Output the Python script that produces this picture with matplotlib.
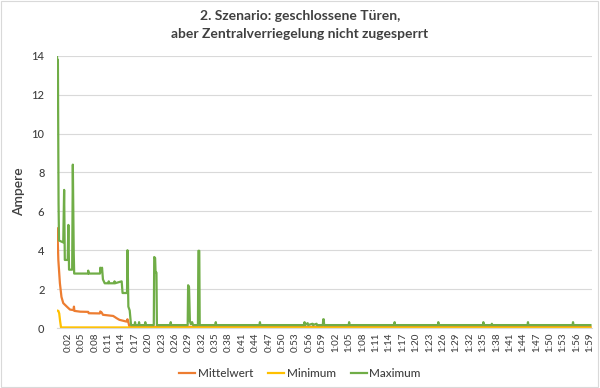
import matplotlib.pyplot as plt
from matplotlib.patches import Rectangle

plt.rcParams['font.family'] = ['Lato', 'DejaVu Sans']

# time in seconds, current in Ampere
mean_t = [0.0, 0.1, 0.3, 0.65, 1.0, 1.4, 2.2, 2.9, 3.7, 3.8, 3.9, 5.2, 7.0, 7.1,
          9.6, 9.7, 10.0, 10.3, 12.6, 13.4, 14.0, 15.6, 15.8, 16.0, 16.2, 16.5, 119.6]
mean_v = [5.12, 5.0, 3.5, 2.3, 1.6, 1.28, 1.1, 0.95, 0.92, 1.1, 0.88, 0.84, 0.83, 0.76,
          0.75, 0.85, 0.8, 0.68, 0.62, 0.5, 0.42, 0.33, 0.45, 0.3, 0.1, 0.06, 0.06]

min_t = [0.0, 0.3, 0.5, 0.7, 0.9, 119.6]
min_v = [0.9, 0.88, 0.75, 0.35, 0.03, 0.02]

max_t = [0.0, 0.1, 0.2, 0.35, 0.45, 1.4, 1.6, 1.75, 2.4, 2.55, 2.7, 3.4, 3.55, 3.75, 3.85,
         6.95, 7.0, 7.1, 9.65, 9.7, 9.9, 10.1, 10.3, 10.7, 11.5, 11.6, 11.7, 12.8, 12.9, 13.0,
         14.5, 14.7, 15.7, 15.8, 16.0, 16.3, 16.6,
         17.4, 17.5, 17.6, 18.3, 18.4, 18.5, 19.7, 19.8, 19.9,
         21.7, 21.8, 22.0, 22.1, 22.3, 22.4,
         25.4, 25.5, 25.6, 29.3, 29.4, 29.6, 29.8, 30.0, 30.3, 30.5,
         31.6, 31.7, 31.9, 32.0, 35.5, 35.6, 35.7, 45.4, 45.5, 45.6,
         55.4, 55.5, 55.6, 56.2, 56.3, 57.3, 57.4, 58.2, 58.3, 59.6, 59.7, 59.8, 59.9,
         65.4, 65.5, 65.6, 75.6, 75.7, 75.8, 85.4, 85.5, 85.6, 95.5, 95.6, 95.7,
         97.4, 97.5, 97.6, 105.5, 105.6, 105.7, 115.6, 115.7, 115.8, 119.6]
max_v = [14.0, 12.7, 13.8, 6.4, 4.5, 4.4, 7.1, 3.5, 3.5, 5.3, 3.0, 3.0, 8.4, 3.9, 2.8,
         2.8, 2.95, 2.8, 2.8, 3.1, 2.9, 3.1, 2.5, 2.3, 2.3, 2.4, 2.3, 2.3, 2.4, 2.3,
         2.4, 1.8, 1.8, 4.0, 1.1, 0.9, 0.15,
         0.15, 0.3, 0.15, 0.15, 0.3, 0.15, 0.15, 0.3, 0.15,
         0.15, 3.65, 3.6, 2.85, 2.85, 0.15,
         0.15, 0.3, 0.15, 0.15, 2.2, 2.1, 0.35, 0.2, 0.3, 0.15,
         0.15, 3.97, 3.97, 0.15, 0.15, 0.3, 0.15, 0.15, 0.3, 0.15,
         0.15, 0.3, 0.15, 0.25, 0.15, 0.22, 0.15, 0.22, 0.15, 0.15, 0.45, 0.45, 0.15,
         0.15, 0.3, 0.15, 0.15, 0.3, 0.15, 0.15, 0.3, 0.15, 0.15, 0.3, 0.15,
         0.15, 0.22, 0.15, 0.15, 0.3, 0.15, 0.15, 0.3, 0.15, 0.15]

tick_secs = list(range(2, 120, 3))
tick_labels = [f"{s // 60}:{s % 60:02d}" for s in tick_secs]

fig = plt.figure(figsize=(6, 3.88), dpi=100)
ax = fig.add_axes([0.095, 0.1546, 0.892, 0.7018])

ax.plot(mean_t, mean_v, color='#ED7D31', lw=1.6, label='Mittelwert')
ax.plot(min_t, min_v, color='#FFC000', lw=1.6, label='Minimum')
ax.plot(max_t, max_v, color='#70AD47', lw=1.6, label='Maximum')

ax.set_xlim(0, 120)
ax.set_ylim(0, 14)
ax.set_yticks(range(0, 15, 2))
ax.set_xticks([s + 0.5 for s in tick_secs])
ax.set_xticklabels(tick_labels, rotation=90, fontsize=7, color='#404040', fontweight='medium')
ax.set_yticklabels([str(v) for v in range(0, 15, 2)], fontsize=8, color='#404040', fontweight='medium')
ax.tick_params(axis='y', length=0, pad=9)
ax.tick_params(axis='x', length=0, pad=3)
ax.grid(axis='y', color='#D9D9D9', lw=0.8)
ax.set_axisbelow(True)
for side in ['top', 'right', 'left']:
    ax.spines[side].set_visible(False)
ax.spines['bottom'].set_color('#D9D9D9')

ax.set_ylabel('Ampere', fontsize=10, color='#404040', fontweight='semibold', labelpad=5)
fig.text(0.5, 0.935, '2. Szenario: geschlossene Türen,\naber Zentralverriegelung nicht zugesperrt',
         ha='center', va='center', fontsize=10, fontweight='bold', color='#404040', linespacing=1.55)

fig.legend(loc='center', bbox_to_anchor=(0.5, 0.038), ncol=3, frameon=False, fontsize=8.5,
           handlelength=1.35, handletextpad=0.2, columnspacing=1.3, labelcolor='#404040',
           prop={'size': 8.5, 'weight': 'medium'})

fig.patches.append(Rectangle((0.002, 0.002), 0.994, 0.995, transform=fig.transFigure,
                             fill=False, edgecolor='#D9D9D9', lw=0.8))

plt.savefig('out.png', dpi=100)
